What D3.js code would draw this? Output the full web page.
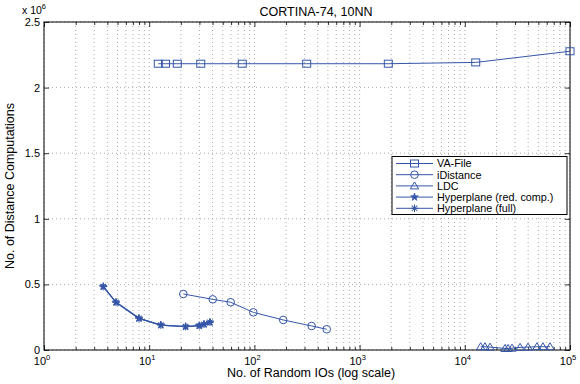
<!DOCTYPE html>
<html>
<head>
<meta charset="utf-8">
<script src="https://cdn.jsdelivr.net/npm/d3@7"></script>
<style>
  html, body { margin: 0; padding: 0; background: #fff; }
  svg text { font-family: "Liberation Sans", Arial, Helvetica, sans-serif; }
</style>
</head>
<body>
<svg id="chart" width="580" height="384"></svg>
<script>
// Random IOs (x) and distance computations (y) per method
const vaFileIO    = [12.2, 14.3, 18.5, 30.9, 76.7, 314, 1875, 12700, 100000];
const vaFileDist  = [2.182e6, 2.182e6, 2.182e6, 2.182e6, 2.182e6, 2.182e6, 2.182e6, 2.192e6, 2.277e6];

const iDistIO     = [21.1, 40.2, 59.5, 97.7, 188, 350, 487];
const iDistDist   = [0.427e6, 0.386e6, 0.364e6, 0.287e6, 0.229e6, 0.183e6, 0.158e6];

const ldcIO       = [14150, 15550, 17370, 24100, 25760, 28100, 33500, 39900, 48500, 55300, 64500];
const ldcDist     = [0.025e6, 0.025e6, 0.022e6, 0.012e6, 0.012e6, 0.014e6, 0.02e6, 0.022e6, 0.025e6, 0.025e6, 0.025e6];

const hypRedIO    = [3.66, 4.84, 8.0, 12.9, 22.2, 29.9, 33.2, 37.8];
const hypRedDist  = [0.483e6, 0.363e6, 0.241e6, 0.19e6, 0.178e6, 0.185e6, 0.196e6, 0.211e6];

const hypFullIO   = [3.66, 4.84, 8.0, 12.9, 22.2, 29.9, 33.2, 37.8];
const hypFullDist = [0.483e6, 0.363e6, 0.241e6, 0.19e6, 0.178e6, 0.185e6, 0.196e6, 0.211e6];

const xTickExps   = [0, 1, 2, 3, 4, 5];
const yTickVals   = [0, 0.5, 1, 1.5, 2, 2.5];
const seriesNames = ["VA-File", "iDistance", "LDC", "Hyperplane (red. comp.)", "Hyperplane (full)"];

const series = [
  { name: seriesNames[0], x: vaFileIO,  y: vaFileDist,  marker: "square" },
  { name: seriesNames[1], x: iDistIO,   y: iDistDist,   marker: "circle" },
  { name: seriesNames[2], x: ldcIO,     y: ldcDist,     marker: "triangle" },
  { name: seriesNames[3], x: hypRedIO,  y: hypRedDist,  marker: "star" },
  { name: seriesNames[4], x: hypFullIO, y: hypFullDist, marker: "asterisk" }
];

const color = "#3556a8";
const svg = d3.select("#chart");
const m = { left: 44, top: 22, right: 570, bottom: 350 };

const x = d3.scaleLog().domain([1, 1e5]).range([m.left, m.right]);
const y = d3.scaleLinear().domain([0, 2.5e6]).range([m.bottom, m.top]);

// minor tick positions of the log axis
const minorX = [];
for (let e = 0; e < 5; e++) for (let k = 2; k <= 9; k++) minorX.push(k * Math.pow(10, e));

// dotted grid
const grid = svg.append("g").attr("stroke", "#888").attr("stroke-width", 0.7)
  .attr("stroke-dasharray", "1,3").attr("fill", "none");
minorX.concat(xTickExps.map(e => Math.pow(10, e))).forEach(v => {
  grid.append("line").attr("x1", x(v)).attr("x2", x(v)).attr("y1", m.top).attr("y2", m.bottom);
});
yTickVals.forEach(v => {
  grid.append("line").attr("x1", m.left).attr("x2", m.right).attr("y1", y(v * 1e6)).attr("y2", y(v * 1e6));
});

// frame
svg.append("rect").attr("x", m.left).attr("y", m.top)
  .attr("width", m.right - m.left).attr("height", m.bottom - m.top)
  .attr("fill", "none").attr("stroke", "#000").attr("stroke-width", 1);

// axes with inward ticks
const xMajor = xTickExps.map(e => Math.pow(10, e));
const xAxisB = d3.axisBottom(x).tickValues(xMajor).tickSize(-5).tickFormat("");
const xMinorB = d3.axisBottom(x).tickValues(minorX).tickSize(-3).tickFormat("");
const xAxisT = d3.axisTop(x).tickValues(xMajor).tickSize(-5).tickFormat("");
const xMinorT = d3.axisTop(x).tickValues(minorX).tickSize(-3).tickFormat("");
const yAxisL = d3.axisLeft(y).tickValues(yTickVals.map(v => v * 1e6)).tickSize(-5).tickFormat("");
const yAxisR = d3.axisRight(y).tickValues(yTickVals.map(v => v * 1e6)).tickSize(-5).tickFormat("");

function styleAxis(g) {
  g.select(".domain").remove();
  g.selectAll("line").attr("stroke", "#000").attr("stroke-width", 0.8);
}
svg.append("g").attr("transform", `translate(0,${m.bottom})`).call(xAxisB).call(styleAxis);
svg.append("g").attr("transform", `translate(0,${m.bottom})`).call(xMinorB).call(styleAxis);
svg.append("g").attr("transform", `translate(0,${m.top})`).call(xAxisT).call(styleAxis);
svg.append("g").attr("transform", `translate(0,${m.top})`).call(xMinorT).call(styleAxis);
svg.append("g").attr("transform", `translate(${m.left},0)`).call(yAxisL).call(styleAxis);
svg.append("g").attr("transform", `translate(${m.right},0)`).call(yAxisR).call(styleAxis);

// tick labels
const xl = svg.append("g").attr("font-size", 11).attr("fill", "#000");
xTickExps.forEach(e => {
  const t = xl.append("text").attr("x", x(Math.pow(10, e)) - 2).attr("y", m.bottom + 15)
    .attr("text-anchor", "middle");
  t.append("tspan").text("10");
  t.append("tspan").attr("dy", -5).attr("font-size", 7.5).text(e);
});
const yl = svg.append("g").attr("font-size", 11).attr("fill", "#000");
yTickVals.forEach(v => {
  yl.append("text").attr("x", m.left - 4).attr("y", y(v * 1e6) + 4)
    .attr("text-anchor", "end").text(v);
});

// exponent marker
const ex = svg.append("text").attr("x", 22).attr("y", 14).attr("font-size", 10.5);
ex.append("tspan").text("x 10");
ex.append("tspan").attr("dy", -5).attr("font-size", 7.5).text("6");

// title and axis titles
svg.append("text").attr("x", 316).attr("y", 16).attr("text-anchor", "middle")
  .attr("font-size", 12.5).text("CORTINA-74, 10NN");
svg.append("text").attr("x", 311).attr("y", 377).attr("text-anchor", "middle")
  .attr("font-size", 12.5).text("No. of Random IOs (log scale)");
svg.append("text").attr("transform", "translate(14,186) rotate(-90)")
  .attr("text-anchor", "middle").attr("font-size", 12.5).text("No. of Distance Computations");

// marker drawing
function drawMarker(g, type, cx, cy) {
  const s = g.append("g").attr("transform", `translate(${cx},${cy})`)
    .attr("stroke", color).attr("stroke-width", 1).attr("fill", "none");
  if (type === "square") {
    s.append("rect").attr("x", -4).attr("y", -3.5).attr("width", 8).attr("height", 7);
  } else if (type === "circle") {
    s.append("circle").attr("r", 3.8);
  } else if (type === "triangle") {
    s.append("path").attr("d", "M0,-4L4.2,3L-4.2,3Z");
  } else if (type === "star") {
    s.append("path").attr("d", d3.symbol(d3.symbolStar, 18)()).attr("fill", color).attr("stroke-width", 0.8);
  } else if (type === "asterisk") {
    [0, 45, 90, 135].forEach(a => {
      s.append("line").attr("x1", -3.8).attr("x2", 3.8).attr("transform", `rotate(${a})`);
    });
  }
}

const line = d3.line().x(d => x(d[0])).y(d => y(d[1]));
series.forEach(sr => {
  const pts = sr.x.map((v, i) => [v, sr.y[i]]);
  const g = svg.append("g");
  g.append("path").attr("d", line(pts)).attr("fill", "none")
    .attr("stroke", color).attr("stroke-width", sr.marker === "star" || sr.marker === "asterisk" ? 1.3 : 1);
  pts.forEach(p => drawMarker(g, sr.marker, x(p[0]), y(p[1])));
});

// legend
const lg = svg.append("g");
lg.append("rect").attr("x", 392).attr("y", 156.5).attr("width", 175).attr("height", 58)
  .attr("fill", "#fff").attr("stroke", "#000").attr("stroke-width", 1);
series.forEach((sr, i) => {
  const ly = 163.5 + i * 11.2;
  lg.append("line").attr("x1", 396).attr("x2", 433).attr("y1", ly).attr("y2", ly)
    .attr("stroke", color).attr("stroke-width", 1);
  drawMarker(lg, sr.marker, 414.5, ly);
  lg.append("text").attr("x", 437).attr("y", ly + 3.8).attr("font-size", 10.8).text(sr.name);
});
</script>
</body>
</html>
